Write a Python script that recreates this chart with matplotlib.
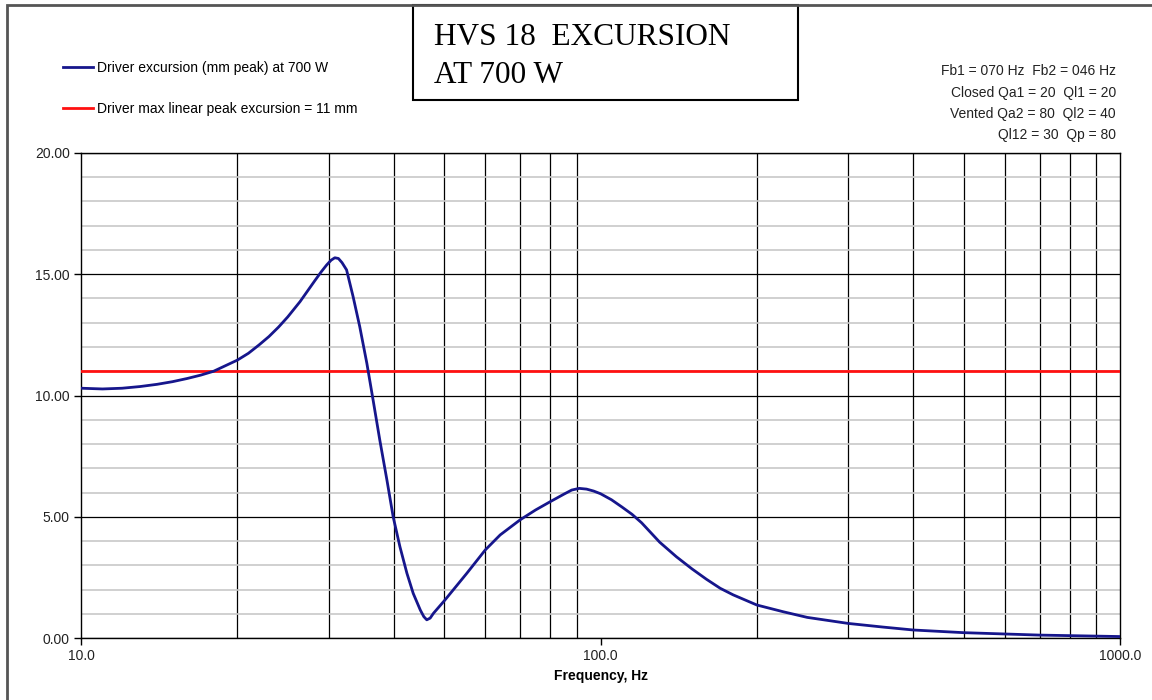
import matplotlib
matplotlib.use("Agg")
import matplotlib.pyplot as plt
from matplotlib.patches import Rectangle
from matplotlib.ticker import FixedLocator, FormatStrFormatter, MultipleLocator

plt.rcParams['font.family'] = ['Liberation Sans', 'DejaVu Sans']

# frequency (Hz) and excursion (mm peak)
freq = [10, 11, 12, 13, 14, 15, 16, 17, 18, 20, 21, 22, 23, 24, 25, 26.4,
        28.2, 29.0, 29.7, 30.3, 30.8, 31.3, 31.8, 32.45, 33.4, 34.4, 35.5,
        36.5, 37.6, 38.8, 39.9, 41.1, 42.4, 43.6, 45.0, 45.7, 46.3, 47.0,
        47.7, 50.2, 55.3, 60.0, 64.1, 70, 75, 80, 85, 88, 91, 94, 97, 100,
        105, 110, 115, 120, 130, 140, 150, 160, 170, 180, 200, 225, 250, 300,
        350, 400, 500, 700, 1000]
excursion = [10.30, 10.27, 10.30, 10.37, 10.46, 10.57, 10.70, 10.84, 11.0,
             11.46, 11.74, 12.08, 12.43, 12.82, 13.24, 13.87,
             14.74, 15.1, 15.38, 15.58, 15.68, 15.65, 15.48, 15.18, 14.08,
             12.84, 11.33, 9.81, 8.16, 6.52, 4.99, 3.77, 2.67, 1.84, 1.15,
             0.88, 0.75, 0.82, 1.02, 1.57, 2.67, 3.63, 4.25, 4.87, 5.28, 5.62,
             5.93, 6.1, 6.17, 6.14, 6.06, 5.95, 5.7, 5.4, 5.1, 4.75, 3.95,
             3.35, 2.85, 2.42, 2.05, 1.78, 1.36, 1.08, 0.85, 0.6, 0.45, 0.33,
             0.22, 0.12, 0.06]
xmax_limit = 11  # mm

label_exc = "Driver excursion (mm peak) at 700 W"
label_max = "Driver max linear peak excursion = 11 mm"
title_lines = ["HVS 18  EXCURSION", "AT 700 W"]
box_info = ["Fb1 = 070 Hz  Fb2 = 046 Hz",
            "Closed Qa1 = 20  Ql1 = 20",
            "Vented Qa2 = 80  Ql2 = 40",
            "Ql12 = 30  Qp = 80"]

W, H = 1152, 700
fig = plt.figure(figsize=(W / 100, H / 100), dpi=100)
ax = fig.add_axes([81 / W, 1 - 638 / H, (1120 - 81) / W, (638 - 153) / H])

l1, = ax.plot(freq, excursion, color='#16168c', lw=2, zorder=4,
              solid_joinstyle='round')
l2 = ax.axhline(xmax_limit, color='#ff1010', lw=2, zorder=3)

ax.set_xscale('log')
ax.set_xlim(10, 1000)
ax.set_ylim(0, 20)

ax.xaxis.set_major_locator(FixedLocator([10, 100, 1000]))
ax.xaxis.set_major_formatter(FormatStrFormatter('%.1f'))
minor_x = [20, 30, 40, 50, 60, 70, 80, 90, 200, 300, 400, 500, 600, 700, 800, 900]
ax.xaxis.set_minor_locator(FixedLocator(minor_x))
ax.xaxis.set_minor_formatter(plt.NullFormatter())
ax.yaxis.set_major_locator(MultipleLocator(5))
ax.yaxis.set_minor_locator(MultipleLocator(1))
ax.yaxis.set_major_formatter(FormatStrFormatter('%.2f'))

ax.grid(True, axis='x', which='minor', color='black', lw=0.9)
ax.grid(True, axis='y', which='major', color='black', lw=0.9)
ax.grid(True, axis='y', which='minor', color='#c8c8c8', lw=1.2)
ax.set_axisbelow(True)

ax.tick_params(which='major', direction='out', length=5, width=1, colors='black',
               labelsize=10, labelcolor='#222222', pad=3)
ax.tick_params(which='minor', length=0)
for s in ax.spines.values():
    s.set_color('black')
    s.set_linewidth(1)

ax.set_xlabel("Frequency, Hz", fontsize=10, fontweight='bold', labelpad=4)

# legend top-left
fig.legend([l1, l2], [label_exc, label_max], loc='upper left',
           bbox_to_anchor=(63 / W, 1 - 61 / H), frameon=False, fontsize=10,
           handlelength=2.15, handletextpad=0.28, labelspacing=1.97,
           borderpad=0, borderaxespad=0)

# title box
fig.add_artist(Rectangle((413 / W, 1 - 100 / H), 385 / W, 95 / H,
                         transform=fig.transFigure, fill=False, ec='black', lw=1.5))
fig.text(434 / W, 1 - 45 / H, title_lines[0], family='Liberation Serif',
         fontsize=22.5, va='baseline')
fig.text(434 / W, 1 - 83 / H, title_lines[1], family='Liberation Serif',
         fontsize=22.5, va='baseline')

# parameters on the right
for i, line in enumerate(box_info):
    fig.text(1116 / W, 1 - (75 + i * 21.5) / H, line, ha='right', va='baseline',
             fontsize=10, color='#222222')

# outer chart frame
fig.add_artist(Rectangle((7 / W, -0.1), 1.2, 1.1 - 5 / H, transform=fig.transFigure,
                         fill=False, ec='#555555', lw=2))

fig.savefig('out.png', dpi=100)
